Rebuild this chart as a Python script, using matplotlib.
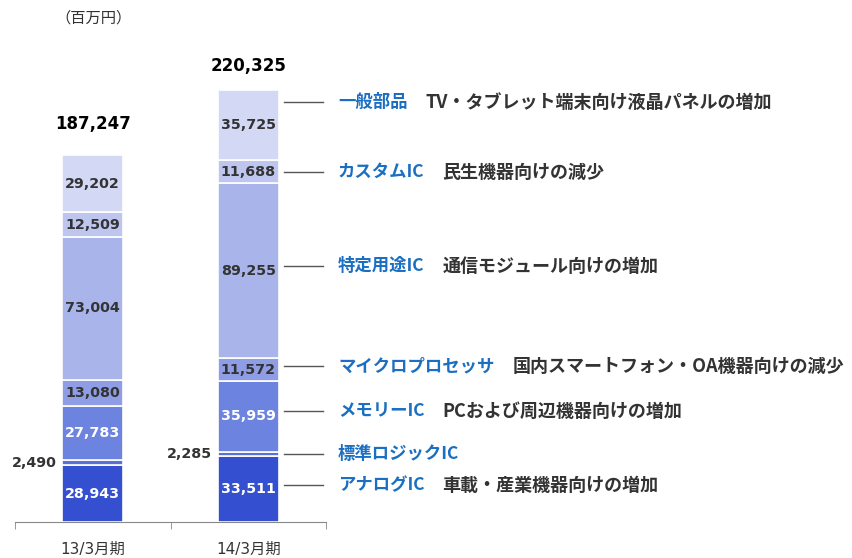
import numpy as np
import matplotlib
matplotlib.use("Agg")
import matplotlib.pyplot as plt

# data (百万円), bottom to top
periods = ["13/3月期", "14/3月期"]
segments = ["アナログIC", "標準ロジックIC", "メモリーIC", "マイクロプロセッサ",
            "特定用途IC", "カスタムIC", "一般部品"]
values_13 = [28943, 2490, 27783, 13080, 73004, 12509, 29202]
values_14 = [33511, 2285, 35959, 11572, 89255, 11688, 35725]
totals = [187247, 220325]
notes = ["車載・産業機器向けの増加", "", "PCおよび周辺機器向けの増加",
         "国内スマートフォン・OA機器向けの減少", "通信モジュール向けの増加",
         "民生機器向けの減少", "TV・タブレット端末向け液晶パネルの増加"]

colors = ["#3450d0", "#5a70d8", "#6c83df", "#8e9de5", "#a9b4eb", "#bec6ef", "#d3d9f5"]
text_colors = ["white", "#333333", "white", "#333333", "#333333", "#333333", "#333333"]
# vertical position (value units) of the callouts on the right
note_y = [18850, 34640, 56550, 79470, 130400, 178300, 214000]

JP = ["Noto Sans CJK JP", "DejaVu Sans"]
NUM = ["DejaVu Sans", "Noto Sans CJK JP"]
BLUE = "#1b6fc2"

fig = plt.figure(figsize=(8.52, 5.58), dpi=100)
ax = fig.add_axes([15 / 852, 36 / 558, 311 / 852, 522 / 558])

x = np.arange(len(periods))
data = np.array([values_13, values_14])
bottom = np.zeros(len(periods))
for i, seg in enumerate(segments):
    vals = data[:, i]
    ax.bar(x, vals, bottom=bottom, width=0.39, color=colors[i],
           edgecolor="white", linewidth=1.2)
    for j in range(len(periods)):
        mid = bottom[j] + vals[j] / 2
        if i == 1:
            # thin band: value sits left of the bar
            ax.text(x[j] - 0.23, mid, f"{vals[j]:,}", ha="right", va="center",
                    fontsize=10.3, fontweight="bold", color="#333333", family=NUM)
        else:
            ax.text(x[j], mid, f"{vals[j]:,}", ha="center", va="center",
                    fontsize=10.3, fontweight="bold", color=text_colors[i], family=NUM)
    bottom += vals

tot_offset = [31, 24]
for j, t in enumerate(totals):
    ax.annotate(f"{t:,}", xy=(x[j], bottom[j]), xytext=(0, tot_offset[j]),
                textcoords="offset pixels", ha="center", va="center",
                fontsize=12, fontweight="bold", color="black", family=NUM)

# callouts for 14/3
for i, seg in enumerate(segments):
    y = note_y[i]
    ax.plot([1.23, 1.48], [y, y], color="#555555", lw=1, clip_on=False)
    lab = ax.text(1.577, y, seg, ha="left", va="center", fontsize=12.5,
                  fontweight="bold", color=BLUE, family=JP, clip_on=False)
    if notes[i]:
        ax.annotate(notes[i], xy=(1, 0.5), xycoords=lab, xytext=(18, 0),
                    textcoords="offset pixels", ha="left", va="center",
                    fontsize=13, fontweight="bold", color="#333333", family=JP)

ax.set_xlim(-0.5, 1.5)
ax.set_ylim(0, 266000)
for s in ["top", "right", "left"]:
    ax.spines[s].set_visible(False)
ax.spines["bottom"].set_color("#888888")
ax.set_yticks([])
ax.set_xticks(x)
ax.set_xticklabels(periods, fontsize=11, color="#333333", family=NUM)
ax.set_xticks([-0.5, 0.5, 1.5], minor=True)
ax.tick_params(axis="x", which="major", length=0, pad=14)
ax.tick_params(axis="x", which="minor", length=5, color="#888888")

fig.text(55 / 852, 1 - 18 / 558, "（百万円）", ha="left", va="center",
         fontsize=11, color="#333333", family=JP)

fig.savefig("out.png", dpi=100)
